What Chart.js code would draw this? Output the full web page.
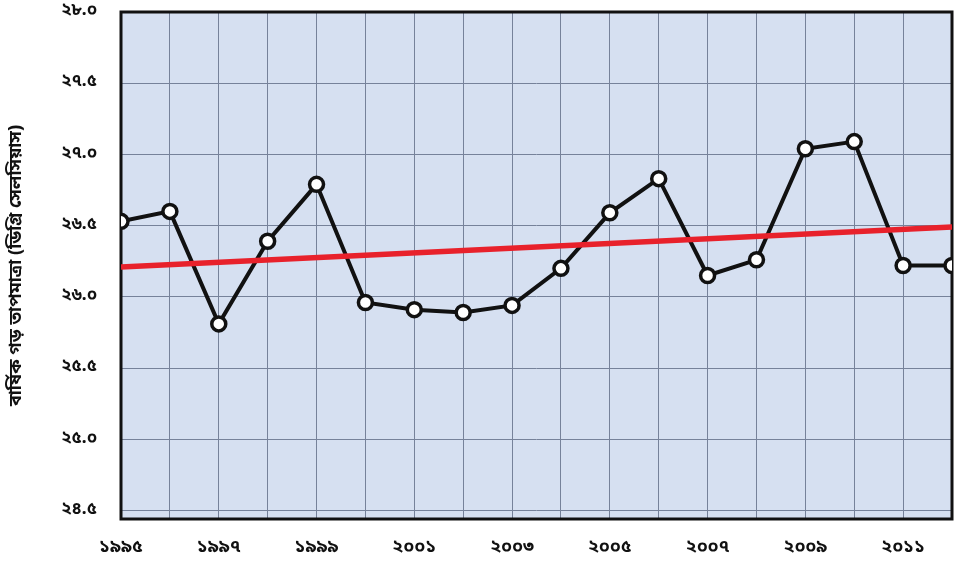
<!DOCTYPE html>
<html>
<head>
<meta charset="utf-8">
<script src="https://cdn.jsdelivr.net/npm/chart.js@4/dist/chart.umd.min.js"></script>
<style>
  html, body { margin: 0; padding: 0; background: #ffffff; }
  #wrap { width: 954px; height: 561px; }
</style>
</head>
<body>
<div id="wrap"><canvas id="tempChart"></canvas></div>
<script>
// yearly mean temperature, 1995-2012
const years = [1995, 1996, 1997, 1998, 1999, 2000, 2001, 2002, 2003,
               2004, 2005, 2006, 2007, 2008, 2009, 2010, 2011, 2012];
const meanTemp = [26.53, 26.60, 25.81, 26.39, 26.79, 25.96, 25.91, 25.89, 25.94,
                  26.20, 26.59, 26.83, 26.15, 26.26, 27.04, 27.09, 26.22, 26.22];

// linear trend, start and end values
const trendYears = [1995, 2012];
const trendTemp = [26.21, 26.49];

const yTicks = [24.5, 25.0, 25.5, 26.0, 26.5, 27.0, 27.5, 28.0];
const xLabelYears = [1995, 1997, 1999, 2001, 2003, 2005, 2007, 2009, 2011];

const axisTitle = "বার্ষিক গড় তাপমাত্রা (ডিগ্রি সেলসিয়াস)";
const bnDigits = ["০", "১", "২", "৩", "৪", "৫", "৬", "৭", "৮", "৯"];

function toBengali(str) {
  return String(str).replace(/[0-9]/g, d => bnDigits[+d]);
}

const FONT = '"Noto Sans Bengali", "Noto Sans", sans-serif';

// plot background + frame
const framePlugin = {
  id: "frame",
  beforeDraw(chart) {
    const a = chart.chartArea;
    const c = chart.ctx;
    c.save();
    c.fillStyle = "#d6e0f1";
    c.fillRect(a.left, a.top, a.right - a.left, a.bottom - a.top);
    c.restore();
  },
  beforeDatasetsDraw(chart) {
    const a = chart.chartArea;
    const c = chart.ctx;
    c.save();
    c.strokeStyle = "#111111";
    c.lineWidth = 3;
    c.strokeRect(a.left, a.top, a.right - a.left, a.bottom - a.top);
    c.restore();
  }
};

new Chart(document.getElementById("tempChart"), {
  type: "line",
  data: {
    datasets: [
      {
        label: "trend",
        data: trendYears.map((x, i) => ({ x: x, y: trendTemp[i] })),
        borderColor: "#e8212b",
        borderWidth: 5.5,
        pointRadius: 0,
        order: 0
      },
      {
        label: "mean",
        data: years.map((x, i) => ({ x: x, y: meanTemp[i] })),
        borderColor: "#111111",
        borderWidth: 4,
        pointRadius: 7,
        pointBorderWidth: 3.5,
        pointBackgroundColor: "#ffffff",
        pointBorderColor: "#111111",
        tension: 0,
        order: 1
      }
    ]
  },
  options: {
    responsive: true,
    maintainAspectRatio: false,
    animation: false,
    layout: {
      autoPadding: false,
      padding: { top: 12, right: 2, left: 0, bottom: 0 }
    },
    plugins: {
      legend: { display: false },
      tooltip: { enabled: false }
    },
    scales: {
      x: {
        type: "linear",
        min: 1995,
        max: 2012,
        afterBuildTicks(scale) {
          scale.ticks = years.map(v => ({ value: v }));
        },
        afterFit(scale) {
          scale.height = 42;
          scale.paddingLeft = 0;
          scale.paddingRight = 0;
        },
        grid: { color: "#76829a", lineWidth: 1, drawTicks: false },
        border: { display: false },
        ticks: {
          padding: 19,
          autoSkip: false,
          maxRotation: 0,
          color: "#111111",
          font: { family: FONT, size: 18, weight: "bold" },
          callback: v => xLabelYears.includes(v) ? toBengali(v) : ""
        }
      },
      y: {
        min: 24.44,
        max: 28.0,
        afterBuildTicks(scale) {
          scale.ticks = yTicks.map(v => ({ value: v }));
        },
        afterFit(scale) {
          scale.width = 121;
          scale.paddingTop = 0;
          scale.paddingBottom = 0;
        },
        grid: { color: "#76829a", lineWidth: 1, drawTicks: false },
        border: { display: false },
        ticks: {
          padding: 24,
          color: "#111111",
          font: { family: FONT, size: 17, weight: "bold" },
          callback: v => toBengali(v.toFixed(1))
        },
        title: {
          display: true,
          text: axisTitle,
          color: "#111111",
          padding: { top: 7, bottom: 0 },
          font: { family: FONT, size: 18, weight: "bold" }
        }
      }
    }
  },
  plugins: [framePlugin]
});
</script>
</body>
</html>
